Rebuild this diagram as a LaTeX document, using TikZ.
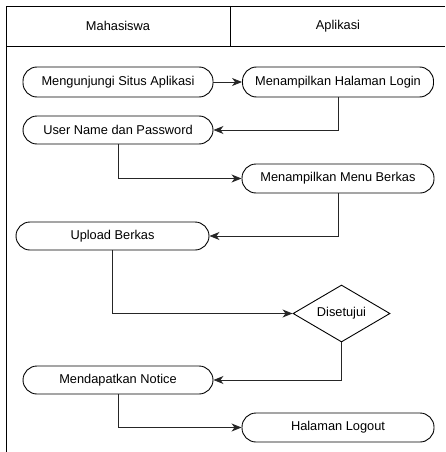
\documentclass[tikz,border=0pt]{standalone}
\usepackage{fontspec}
\setmainfont{Liberation Sans}
\usetikzlibrary{arrows.meta,shapes.geometric}
\begin{document}
\begin{tikzpicture}[x=1pt,y=-1pt,
  txt/.style={font=\fontsize{12.8}{14}\selectfont},
  act/.style={txt,draw=black,line width=0.9pt,rounded corners=14pt,inner sep=0pt},
  dec/.style={txt,draw=black,line width=0.9pt,diamond,aspect=1.7,inner sep=0pt,minimum width=97pt,minimum height=57pt},
  flow/.style={draw=black!85,line width=0.9pt,-{Stealth[length=10pt,width=8pt,inset=3pt]}},
  lane/.style={draw=black,line width=0.9pt}]
\useasboundingbox (0,0) rectangle (445,452);
% swimlane frame
\draw[lane] (445,6) -- (6,6) -- (6,452);
\draw[lane] (6,46) -- (445,46);
\draw[lane] (230,6) -- (230,46);
\node[txt] (h1) at (118,26) {Mahasiswa};
\node[txt] (h2) at (338,26) {Aplikasi};
% activities
\node[act,minimum width=190pt,minimum height=30pt] (a1) at (118,82) {Mengunjungi Situs Aplikasi};
\node[act,minimum width=191pt,minimum height=30pt] (a2) at (338,82) {Menampilkan Halaman Login};
\node[act,minimum width=190pt,minimum height=28pt] (a3) at (118,130) {User Name dan Password};
\node[act,minimum width=192pt,minimum height=29pt] (a4) at (338,178.5) {Menampilkan Menu Berkas};
\node[act,minimum width=193pt,minimum height=28pt] (a5) at (112.5,236) {Upload Berkas};
\node[dec] (d1) at (341.5,313.5) {Disetujui};
\node[act,minimum width=190pt,minimum height=28pt] (a6) at (118,380) {Mendapatkan Notice};
\node[act,minimum width=192pt,minimum height=29pt] (a7) at (338,427.5) {Halaman Logout};
% connectors
\draw[flow] (a1) -- (a2);
\draw[flow] (a2.south) |- (a3.east);
\draw[flow] (a3.south) |- (a4.west);
\draw[flow] (a4.south) |- (a5.east);
\draw[flow] (a5.south) |- (d1.west);
\draw[flow] (d1.south) |- (a6.east);
\draw[flow] (a6.south) |- (a7.west);
\end{tikzpicture}
\end{document}
